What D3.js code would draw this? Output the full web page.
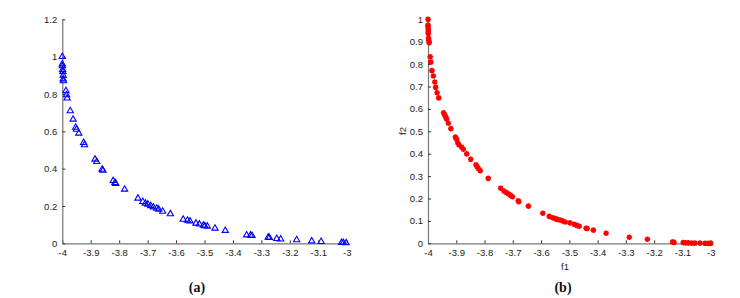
<!DOCTYPE html>
<html><head><meta charset="utf-8">
<script src="https://cdn.jsdelivr.net/npm/d3@7"></script>
<style>body{margin:0;background:#fff}svg{display:block}</style>
</head><body>
<script>
// Panel (a): blue triangles
const aX = [-4,-4,-4,-3.999,-3.998,-3.997,-3.997,-3.996,-3.987,-3.985,-3.983,-3.972,-3.962,-3.953,-3.950,-3.942,-3.925,-3.922,
  -3.885,-3.879,-3.860,-3.857,-3.821,-3.815,-3.812,-3.781,-3.734,-3.717,-3.708,-3.699,-3.689,-3.680,-3.668,-3.661,-3.647,-3.620,
  -3.575,-3.560,-3.551,-3.530,-3.518,-3.504,-3.499,-3.490,-3.463,-3.427,-3.352,-3.338,-3.333,-3.276,-3.272,-3.246,-3.232,-3.176,
  -3.123,-3.090,-3.018,-3.012,-3.002];
const aY = [1.0,0.96,0.95,0.93,0.92,0.90,0.88,0.87,0.817,0.795,0.777,0.709,0.664,0.621,0.61,0.589,0.539,0.527,
  0.45,0.437,0.396,0.39,0.335,0.325,0.32,0.289,0.241,0.223,0.214,0.209,0.201,0.194,0.187,0.182,0.171,0.157,
  0.128,0.123,0.119,0.107,0.102,0.096,0.093,0.091,0.080,0.068,0.044,0.043,0.041,0.032,0.030,0.025,0.022,0.018,
  0.012,0.009,0.004,0.003,0.002];
// Panel (b): red asterisks
const bX = [-4,-4,-4,-3.999,-3.999,-3.999,-3.998,-3.997,-3.996,-3.992,-3.990,-3.986,-3.981,-3.976,-3.973,-3.968,-3.962,
  -3.945,-3.941,-3.937,-3.934,-3.928,-3.919,-3.903,-3.899,-3.895,-3.891,-3.881,-3.875,-3.863,-3.849,-3.830,-3.826,-3.821,-3.815,
  -3.787,-3.743,-3.731,-3.722,-3.715,-3.708,-3.701,-3.681,-3.679,-3.645,-3.594,-3.571,-3.559,-3.550,-3.543,-3.533,-3.524,-3.515,
  -3.498,-3.484,-3.474,-3.465,-3.441,-3.437,-3.415,-3.370,-3.288,-3.224,-3.135,-3.130,-3.097,-3.088,-3.079,-3.067,-3.056,-3.038,
  -3.020,-3.008,-3.0];
const bY = [1.0,0.974,0.967,0.955,0.945,0.937,0.915,0.905,0.896,0.833,0.809,0.771,0.747,0.72,0.696,0.672,0.649,
  0.583,0.573,0.563,0.554,0.536,0.512,0.474,0.465,0.449,0.44,0.429,0.420,0.399,0.375,0.350,0.342,0.333,0.324,
  0.290,0.246,0.233,0.226,0.220,0.214,0.208,0.190,0.186,0.166,0.134,0.120,0.114,0.110,0.107,0.104,0.100,0.095,
  0.091,0.085,0.080,0.076,0.067,0.066,0.059,0.045,0.027,0.018,0.006,0.004,0.003,0.002,0.002,0.001,0.001,0.001,
  0.0,0.0,0.0];
const xTicks = [-4,-3.9,-3.8,-3.7,-3.6,-3.5,-3.4,-3.3,-3.2,-3.1,-3];
const aYTicks = [0,0.2,0.4,0.6,0.8,1,1.2];
const bYTicks = [0,0.1,0.2,0.3,0.4,0.5,0.6,0.7,0.8,0.9,1];
const xLabelB = "f1", yLabelB = "f2";
const captions = ["(a)","(b)"];

const W=740,H=298;
const svg=d3.select("body").append("svg").attr("width",W).attr("height",H);
const axisColor="#777", textColor="#1a1a1a";
const sans="Liberation Sans, Arial, sans-serif";

function panel(x0,x1,yTop,yBot,yDomainMax,yTicks,X,Y,kind){
  const x=d3.scaleLinear().domain([-4,-3]).range([x0,x1]);
  const y=d3.scaleLinear().domain([0,yDomainMax]).range([yBot,yTop]);
  const g=svg.append("g");
  const xa=g.append("g").attr("transform",`translate(0,${yBot})`)
    .call(d3.axisBottom(x).tickValues(xTicks).tickSizeInner(-3).tickSizeOuter(0).tickPadding(6).tickFormat(d=>String(+d.toFixed(1))));
  const ya=g.append("g").attr("transform",`translate(${x0},0)`)
    .call(d3.axisLeft(y).tickValues(yTicks).tickSizeInner(-3).tickSizeOuter(0).tickPadding(5).tickFormat(d=>String(+d.toFixed(1))));
  [xa,ya].forEach(a=>{
    a.select(".domain").attr("stroke",axisColor).attr("stroke-width",1.2);
    a.selectAll(".tick line").attr("stroke","#333");
    a.selectAll("text").attr("fill",textColor).attr("font-family",sans).attr("font-size",9.5);
  });
  const pts=g.append("g");
  X.forEach((v,i)=>{
    const cx=x(v), cy=y(Y[i]);
    if(kind==="tri"){
      pts.append("path").attr("d",d3.symbol(d3.symbolTriangle2,28)())
        .attr("transform",`translate(${cx},${cy})`).attr("fill","none").attr("stroke","#0000ff").attr("stroke-width",1.1);
    } else {
      const r=2.8, s=r*0.72;
      pts.append("path").attr("d",`M${-r},0L${r},0M0,${-r}L0,${r}M${-s},${-s}L${s},${s}M${-s},${s}L${s},${-s}`)
        .attr("transform",`translate(${cx},${cy})`).attr("fill","none").attr("stroke","#ff0000").attr("stroke-width",1.6);
    }
  });
  return {x,y};
}

panel(62.3,346.7,19.3,243.3,1.2,aYTicks,aX,aY,"tri");
panel(428,710.7,19.3,243.3,1.0,bYTicks,bX,bY,"star");

svg.append("text").attr("x",565).attr("y",270).attr("text-anchor","middle")
  .attr("font-family",sans).attr("font-size",9.5).attr("fill",textColor).text(xLabelB);
svg.append("text").attr("transform","translate(406,131) rotate(-90)").attr("text-anchor","middle")
  .attr("font-family",sans).attr("font-size",9.5).attr("fill",textColor).text(yLabelB);
[[197,captions[0]],[563,captions[1]]].forEach(([cx,t])=>{
  svg.append("text").attr("x",cx).attr("y",291.5).attr("text-anchor","middle")
    .attr("font-family","Liberation Serif, Times New Roman, serif").attr("font-weight","bold").attr("font-size",14)
    .attr("fill","#111").text(t);
});
</script>
</body></html>
